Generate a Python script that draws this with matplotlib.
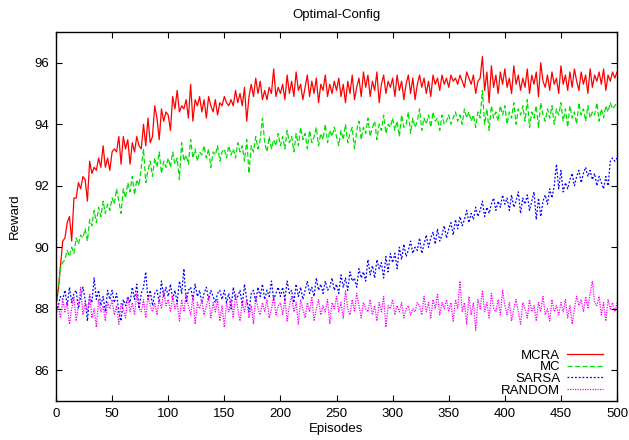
import numpy as np
import matplotlib
matplotlib.use("Agg")
import matplotlib.pyplot as plt

plt.rcParams['font.family'] = ['Liberation Sans', 'DejaVu Sans']

title = "Optimal-Config"
xlabel = "Episodes"
ylabel = "Reward"
labels = ["MCRA", "MC", "SARSA", "RANDOM"]
episodes = list(range(0, 501, 2))
xticks = list(range(0, 501, 50))
yticks = [86, 88, 90, 92, 94, 96]

mcra = [
    88.1, 88.6, 89.4, 90.2, 90.3, 90.8, 91.0, 90.2, 91.6, 91.6, 92.1, 91.9, 92.3, 92.2, 91.5, 92.8, 92.4, 92.6, 92.5, 92.9, 92.6, 93.3, 92.6, 92.9, 92.5,
    93.1, 93.2, 93.1, 93.6, 92.7, 93.6, 93.2, 93.5, 92.7, 93.4, 93.1, 93.6, 93.3, 93.2, 94.0, 93.3, 94.2, 93.4, 93.6, 94.6, 94.2, 93.5, 94.5, 94.1, 94.4,
    94.3, 93.8, 94.9, 94.5, 95.1, 94.4, 94.6, 94.5, 94.8, 94.2, 95.3, 94.1, 94.8, 94.6, 94.9, 94.4, 94.8, 94.2, 94.9, 94.6, 94.4, 94.8, 94.3, 94.7, 94.6,
    94.9, 94.7, 94.6, 94.8, 94.6, 95.1, 94.7, 95.0, 94.6, 95.2, 94.1, 94.9, 95.3, 94.9, 95.5, 95.0, 95.4, 94.8, 95.1, 94.8, 95.2, 95.0, 95.8, 94.9, 95.2,
    95.0, 95.3, 94.8, 95.6, 95.0, 95.4, 94.9, 95.7, 95.1, 95.3, 94.8, 95.2, 95.6, 94.9, 95.4, 95.0, 95.5, 94.7, 95.3, 95.1, 95.6, 94.9, 95.3, 95.0, 95.4,
    95.1, 95.5, 94.9, 95.3, 94.7, 95.4, 95.0, 95.6, 94.8, 95.2, 95.5, 94.9, 95.7, 95.2, 95.6, 94.9, 95.4, 95.1, 95.7, 94.7, 95.3, 95.6, 95.0, 95.4, 95.2,
    95.5, 94.9, 95.6, 95.1, 95.4, 94.8, 95.3, 95.6, 95.0, 95.5, 94.8, 95.3, 95.6, 95.2, 95.5, 95.0, 95.4, 94.9, 95.6, 95.3, 95.5, 95.1, 95.6, 95.3, 95.5,
    95.2, 95.6, 95.4, 95.5, 95.3, 95.6, 95.4, 95.2, 95.7, 95.5, 95.3, 95.6, 95.0, 95.4, 95.5, 96.2, 95.1, 95.7, 94.7, 95.9, 95.2, 95.6, 95.0, 95.7, 95.3,
    95.8, 95.2, 95.5, 95.0, 95.9, 95.3, 95.6, 95.1, 95.5, 95.2, 95.8, 95.0, 95.6, 95.3, 95.7, 94.9, 96.0, 95.4, 95.2, 95.6, 95.1, 95.7, 95.3, 95.5, 95.0,
    95.9, 95.3, 95.6, 95.1, 95.7, 95.2, 95.8, 95.4, 95.1, 95.7, 95.3, 95.6, 95.0, 95.8, 95.2, 95.6, 95.4, 95.7, 95.3, 95.8, 95.1, 95.6, 95.4, 95.7, 95.5, 95.7,
]

mc = [
    88.0, 88.7, 89.3, 89.5, 89.6, 89.9, 89.7, 90.0, 89.8, 90.3, 90.1, 90.4, 90.3, 90.6, 90.2, 90.9, 90.7, 91.2, 90.8, 91.3, 91.0, 91.5, 91.1, 91.4, 91.2,
    91.6, 91.4, 91.9, 91.5, 91.1, 91.9, 91.6, 92.1, 91.8, 92.3, 91.7, 92.2, 92.0, 92.6, 93.2, 92.1, 92.5, 92.8, 92.3, 92.9, 92.6, 93.1, 92.4, 92.8, 92.6,
    92.9, 92.6, 93.1, 92.7, 92.9, 92.2, 93.4, 92.8, 93.0, 92.7, 93.5, 92.9, 93.2, 92.8, 93.1, 93.0, 93.3, 92.9, 93.2, 92.6, 93.1, 93.0, 93.3, 92.8, 93.1,
    93.2, 92.9, 93.3, 93.0, 93.2, 92.9, 93.4, 93.1, 93.3, 92.8, 93.5, 92.4, 93.3, 93.1, 93.6, 93.2, 93.5, 94.2, 93.4, 93.1, 93.6, 93.2, 93.5, 93.3, 93.7,
    93.3, 93.6, 93.2, 93.8, 93.4, 93.6, 93.1, 93.7, 93.3, 93.9, 93.5, 93.7, 93.2, 93.8, 93.4, 93.6, 93.9, 93.3, 93.7, 93.5, 94.0, 93.4, 93.8, 93.6, 93.9,
    93.6, 93.3, 93.8, 93.5, 94.0, 93.4, 93.7, 93.9, 93.2, 93.8, 94.1, 93.5, 93.9, 93.7, 94.2, 93.6, 93.9, 94.1, 93.5, 94.0, 93.8, 94.3, 93.7, 94.0, 93.9,
    94.2, 93.8, 94.1, 93.6, 94.3, 93.9, 94.0, 94.4, 93.7, 94.2, 93.9, 94.1, 94.5, 93.8, 94.2, 94.0, 94.3, 93.9, 94.4, 94.1, 94.2, 93.8, 94.3, 94.0, 94.1,
    94.3, 94.0, 94.2, 94.4, 94.1, 94.3, 94.0, 94.5, 94.2, 94.4, 94.1, 94.3, 93.9, 94.4, 94.2, 95.1, 94.0, 94.5, 93.8, 94.6, 94.2, 94.4, 94.1, 94.6, 94.3,
    94.6, 94.0, 94.4, 94.2, 94.7, 94.0, 94.5, 94.3, 94.6, 94.1, 94.8, 93.9, 94.4, 94.2, 94.6, 93.9, 94.7, 94.3, 94.1, 94.5, 94.2, 94.6, 94.0, 94.5, 94.3,
    94.7, 94.1, 94.5, 93.9, 94.6, 94.2, 94.4, 94.0, 94.7, 94.3, 94.5, 94.1, 94.6, 94.2, 94.4, 94.3, 94.7, 94.1, 94.5, 94.2, 94.6, 94.4, 94.7, 94.5, 94.6, 94.7,
]

sarsa = [
    87.9, 88.1, 88.4, 88.3, 88.6, 88.1, 88.7, 88.2, 88.5, 88.6, 88.0, 88.4, 88.7, 88.3, 87.6, 88.4, 88.2, 89.0, 88.3, 88.6, 88.1, 88.4, 87.9, 88.6, 88.3,
    88.6, 88.2, 88.5, 87.9, 87.6, 88.3, 88.1, 88.4, 88.2, 88.7, 88.3, 88.8, 88.0, 88.5, 88.7, 89.2, 88.3, 88.6, 88.1, 88.5, 88.6, 88.2, 88.9, 88.4, 88.7,
    88.4, 88.8, 88.3, 88.6, 88.2, 88.9, 88.5, 89.3, 88.2, 88.6, 88.7, 88.3, 88.8, 88.4, 88.6, 88.2, 88.5, 88.7, 88.3, 88.6, 88.4, 88.2, 88.5, 88.6, 88.3,
    88.6, 88.2, 88.5, 88.0, 88.7, 88.3, 88.4, 88.6, 88.1, 88.8, 88.3, 87.9, 88.5, 88.6, 88.2, 88.7, 88.4, 88.8, 88.3, 88.6, 88.4, 88.9, 88.3, 88.5, 88.7,
    88.4, 88.7, 88.3, 88.9, 88.5, 88.6, 88.2, 88.8, 88.4, 88.7, 88.3, 88.6, 88.9, 88.5, 88.7, 88.4, 89.0, 88.6, 88.8, 88.5, 88.9, 88.6, 88.7, 89.0, 88.6,
    88.8, 88.5, 89.1, 88.7, 89.0, 88.6, 89.2, 88.9, 89.0, 88.7, 89.3, 89.0, 89.2, 88.9, 89.6, 89.1, 89.4, 89.0, 89.6, 89.3, 89.5, 89.0, 89.7, 89.2, 89.8,
    89.5, 89.8, 89.3, 90.0, 89.6, 90.1, 89.7, 89.9, 90.2, 89.8, 90.0, 89.9, 90.3, 89.8, 90.1, 90.4, 90.0, 90.3, 90.5, 90.1, 90.6, 90.2, 90.4, 90.7, 90.3,
    90.6, 90.8, 90.4, 90.9, 90.6, 91.0, 90.7, 90.9, 91.2, 90.8, 91.1, 90.9, 91.3, 91.0, 91.2, 91.5, 91.0, 91.3, 91.1, 91.4, 91.6, 91.2, 91.5, 91.3, 91.7,
    91.4, 91.6, 91.2, 91.7, 91.3, 91.5, 91.8, 91.1, 91.6, 91.4, 91.7, 91.2, 91.5, 91.8, 90.9, 91.6, 91.0, 91.5, 91.7, 91.4, 91.9, 91.6, 92.0, 92.7, 91.9,
    92.5, 91.8, 92.1, 91.9, 92.2, 92.4, 92.0, 92.3, 92.5, 92.1, 92.4, 92.6, 92.3, 92.5, 92.2, 92.4, 92.0, 92.3, 92.1, 91.9, 92.3, 92.0, 92.8, 92.9, 92.8, 92.9,
]

rand = [
    87.8, 88.1, 87.7, 88.3, 87.9, 88.2, 87.5, 88.0, 88.4, 87.6, 88.1, 88.7, 87.8, 88.2, 87.9, 88.5, 87.7, 88.0, 87.4, 88.3, 87.9, 88.1, 87.6, 88.2, 88.0,
    88.3, 87.8, 88.1, 87.5, 88.2, 88.0, 87.7, 88.4, 87.9, 88.2, 87.8, 88.5, 88.0, 87.9, 88.3, 87.7, 88.4, 88.1, 87.9, 88.2, 87.8, 88.3, 88.0, 88.6, 88.1,
    88.3, 87.9, 88.4, 88.0, 88.2, 87.6, 88.3, 87.9, 88.5, 88.1, 87.8, 88.4, 87.5, 88.2, 88.0, 88.3, 87.8, 88.1, 88.4, 87.7, 88.2, 87.9, 88.3, 87.6, 88.1,
    87.4, 88.2, 87.9, 88.3, 87.7, 88.5, 88.0, 87.6, 88.2, 87.9, 88.3, 87.7, 88.1, 87.5, 88.4, 88.0, 87.8, 88.2, 87.9, 88.3, 87.7, 88.0, 88.4, 87.8, 88.1,
    88.2, 87.8, 88.3, 87.6, 88.1, 88.4, 87.9, 88.2, 87.5, 88.3, 88.0, 87.7, 88.2, 87.9, 88.4, 87.6, 88.0, 88.3, 87.8, 88.1, 87.9, 88.3, 87.5, 88.2, 88.0,
    88.4, 87.9, 88.2, 87.7, 88.6, 88.0, 87.8, 88.3, 87.9, 88.5, 88.1, 87.7, 88.2, 88.0, 87.9, 88.3, 87.8, 88.1, 87.6, 88.2, 87.9, 88.4, 87.4, 88.1, 88.0,
    88.3, 87.8, 88.1, 87.9, 88.2, 87.7, 88.0, 88.1, 87.8, 88.0, 87.9, 88.2, 88.1, 87.8, 88.4, 87.9, 88.2, 87.7, 88.3, 88.0, 88.5, 87.8, 88.2, 88.0, 88.3,
    87.9, 88.2, 87.6, 88.3, 88.0, 88.9, 87.9, 88.2, 87.5, 88.4, 87.8, 88.2, 87.3, 88.3, 88.0, 88.6, 87.9, 88.2, 87.7, 88.5, 88.0, 87.9, 88.3, 87.8, 88.6,
    88.1, 87.8, 88.2, 87.6, 88.0, 88.3, 87.9, 87.5, 88.2, 88.0, 87.7, 88.3, 87.9, 88.1, 87.6, 88.2, 87.9, 88.4, 87.8, 88.0, 87.6, 88.3, 87.9, 88.1, 87.8,
    88.2, 87.9, 88.3, 87.7, 88.1, 87.5, 88.0, 88.4, 88.1, 88.3, 87.9, 88.4, 88.0, 88.5, 88.9, 88.2, 88.1, 88.4, 87.8, 88.2, 87.6, 88.3, 88.0, 88.2, 87.9, 88.2,
]

colors = ["#ff0000", "#00e000", "#0000ff", "#ff00ff"]
styles = ["-", (0, (4, 2)), (0, (1.5, 1.5)), (0, (1, 1))]

fs = 9.5
fig = plt.figure(figsize=(6.29, 4.40), dpi=100)
ax = fig.add_axes([0.089, 0.0886, 0.892, 0.8387])
for y, lab, c, ls in zip([mcra, mc, sarsa, rand], labels, colors, styles):
    ax.plot(episodes, y, color=c, linestyle=ls, linewidth=0.9, label=lab)

ax.set_xlim(0, 500)
ax.set_ylim(85, 97)
ax.set_xticks(xticks)
ax.set_yticks(yticks)
ax.tick_params(direction='in', top=True, right=True, labelsize=fs, length=4, width=0.8, pad=5)
for s in ax.spines.values():
    s.set_linewidth(1.0)
ax.set_title(title, fontsize=fs, pad=10)
ax.set_xlabel(xlabel, fontsize=fs, labelpad=2)
ax.set_ylabel(ylabel, fontsize=fs, labelpad=10)
ax.legend(loc='lower right', bbox_to_anchor=(0.975, 0.012), frameon=False, markerfirst=False,
          fontsize=fs, handlelength=2.7, labelspacing=-0.05, borderaxespad=0, borderpad=0,
          handletextpad=0.55)

fig.savefig("out.png", dpi=100)
